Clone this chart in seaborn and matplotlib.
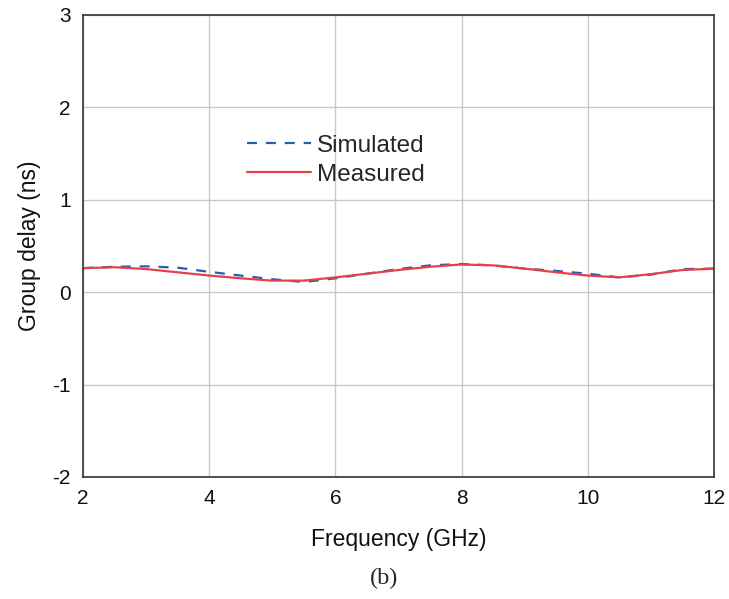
import pandas as pd
import numpy as np
import matplotlib.pyplot as plt
import seaborn as sns

# values (b) panel
freq = [2, 2.5, 3, 3.5, 4, 4.5, 5, 5.5, 6, 6.5, 7, 7.5, 8, 8.5, 9, 9.5, 10, 10.5, 11, 11.5, 12]
simulated = [0.26, 0.275, 0.28, 0.265, 0.22, 0.18, 0.14, 0.11, 0.15, 0.20, 0.25, 0.29, 0.305, 0.29, 0.255, 0.23, 0.20, 0.16, 0.19, 0.25, 0.255]
measured = [0.26, 0.27, 0.25, 0.215, 0.18, 0.15, 0.125, 0.125, 0.16, 0.20, 0.24, 0.275, 0.30, 0.29, 0.255, 0.215, 0.18, 0.16, 0.195, 0.24, 0.255]

df = pd.DataFrame({'Frequency': freq, 'Simulated': simulated, 'Measured': measured})

sns.set_theme(style="white")
plt.rcParams['font.family'] = ['Liberation Sans', 'DejaVu Sans']
plt.rcParams['axes.unicode_minus'] = False

fig = plt.figure(figsize=(7.29, 5.99), dpi=100)
ax = fig.add_axes([0.1139, 0.2037, 0.8655, 0.7713])

sns.lineplot(data=df, x='Frequency', y='Simulated', ax=ax, color='#2a5db0',
             linestyle=(0, (4.5, 4.0)), linewidth=1.6, label='Simulated')
sns.lineplot(data=df, x='Frequency', y='Measured', ax=ax, color='#e8404a',
             linewidth=1.6, label='Measured')

ax.set_xlim(2, 12)
ax.set_ylim(-2, 3)
ax.set_xticks([2, 4, 6, 8, 10, 12])
ax.set_yticks([-2, -1, 0, 1, 2, 3])
ax.grid(True, color='#c8c8c8', linewidth=1)
ax.set_axisbelow(True)
for s in ax.spines.values():
    s.set_color('#333333')
    s.set_linewidth(1.2)
ax.tick_params(axis='both', which='both', direction='out', length=5, width=1.2,
               color='#333333', labelsize=15, labelcolor='#111111', pad=4)

ax.set_xlabel('Frequency (GHz)', fontsize=16.5, color='#111111', labelpad=14)
ax.set_ylabel('Group delay (ns)', fontsize=16.5, color='#111111', labelpad=8)

leg = ax.legend(loc='upper left', bbox_to_anchor=(0.245, 0.762), frameon=False,
                fontsize=17.5, handlelength=2.6, handletextpad=0.25, labelspacing=0.3,
                borderaxespad=0)

fig.text(0.527, 0.035, '(b)', fontsize=17.5, family='Liberation Serif', ha='center', va='center')

plt.savefig('out.png', dpi=100)
